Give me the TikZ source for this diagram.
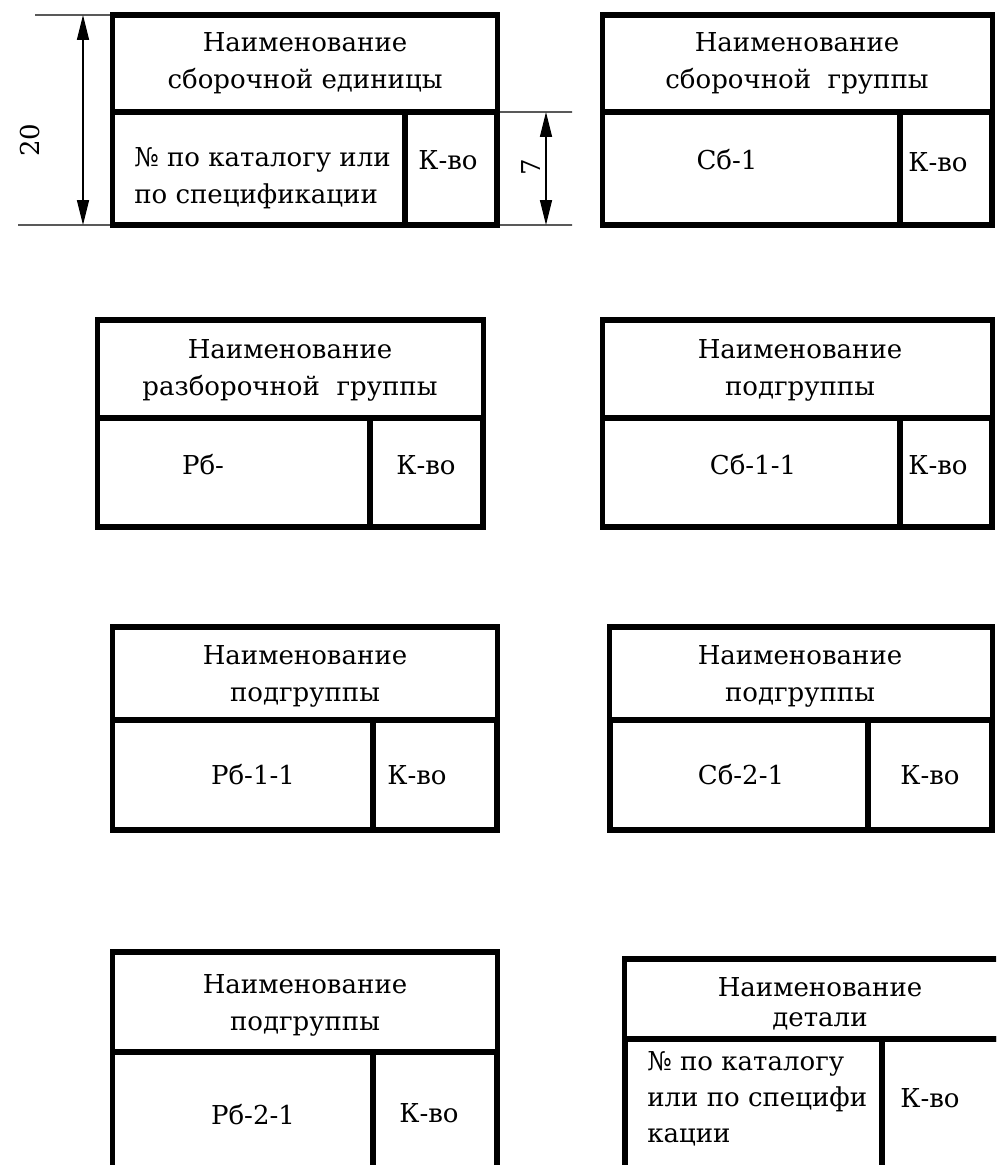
\documentclass[tikz,border=0pt]{standalone}
\usepackage{fontspec}
\setmainfont{DejaVu Serif}
\usetikzlibrary{arrows.meta}

\tikzset{
	cell/.style={draw,rectangle,line width=3.6pt,inner sep=0pt,outer sep=0pt},
	txt/.style={align=center,inner sep=0pt,font=\fontsize{18.5}{26.3}\selectfont},
	dimline/.style={line width=0.9pt},
	dimarrow/.style={line width=0.9pt,{Triangle[length=0.62cm,width=0.3cm]}-{Triangle[length=0.62cm,width=0.3cm]}}
}

\begin{document}
\begin{tikzpicture}[x=0.025cm,y=-0.025cm]
		\useasboundingbox (0,0) rectangle (996,1165);
		\clip (0,0) rectangle (996,1165);

		% row 1
		\node[cell,minimum width=9.6cm,minimum height=2.425cm] at (305,63.5) (b1h) {};
		\node[cell,minimum width=7.3cm,minimum height=2.825cm] at (259,168.5) (b1n) {};
		\node[cell,minimum width=2.3cm,minimum height=2.825cm] at (451,168.5) (b1k) {};
		\node[txt] at (305,63) (t1h) {Наименование\\сборочной единицы};
		\node[txt,align=left,anchor=west] at (134,178) (t1n) {№ по каталогу или\\по спецификации};
		\node[txt] at (448,160) (t1k) {К-во};

		\node[cell,minimum width=9.725cm,minimum height=2.425cm] at (797.5,63.5) (b2h) {};
		\node[cell,minimum width=7.425cm,minimum height=2.825cm] at (751.5,168.5) (b2n) {};
		\node[cell,minimum width=2.3cm,minimum height=2.825cm] at (946,168.5) (b2k) {};
		\node[txt] at (797,63) (t2h) {Наименование\\сборочной\ \ группы};
		\node[txt] at (727,160) (t2n) {Сб-1};
		\node[txt] at (938,162) (t2k) {К-во};

		% dimensions
		\coordinate (e1) at (35,15);
		\coordinate (e2) at (18,225);
		\coordinate (e3) at (572,112);
		\coordinate (e4) at (572,225);
		\coordinate (a1) at (83,15);
		\coordinate (a2) at (83,225);
		\coordinate (a3) at (546,112);
		\coordinate (a4) at (546,225);
		\draw[dimline] (e1) -- (b1h.north west);
		\draw[dimline] (e2) -- (b1n.south west);
		\draw[dimline] (b1h.south east) -- (e3);
		\draw[dimline] (b1k.south east) -- (e4);
		\draw[dimarrow] (a1) -- (a2);
		\node[txt,rotate=90] at (30,140) (l20) {20};
		\draw[dimarrow] (a3) -- (a4);
		\node[txt,rotate=90] at (531,167) (l7) {7};

		% row 2
		\node[cell,minimum width=9.625cm,minimum height=2.45cm] at (290.5,369) (b3h) {};
		\node[cell,minimum width=6.8cm,minimum height=2.725cm] at (234,472.5) (b3n) {};
		\node[cell,minimum width=2.825cm,minimum height=2.725cm] at (426.5,472.5) (b3k) {};
		\node[txt] at (290,370) (t3h) {Наименование\\разборочной\ \ группы};
		\node[txt] at (203,465) (t3n) {Рб-};
		\node[txt] at (426,465) (t3k) {К-во};

		\node[cell,minimum width=9.725cm,minimum height=2.45cm] at (797.5,369) (b4h) {};
		\node[cell,minimum width=7.425cm,minimum height=2.725cm] at (751.5,472.5) (b4n) {};
		\node[cell,minimum width=2.3cm,minimum height=2.725cm] at (946,472.5) (b4k) {};
		\node[txt] at (800,370) (t4h) {Наименование\\подгруппы};
		\node[txt] at (753,465) (t4n) {Сб-1-1};
		\node[txt] at (938,465) (t4k) {К-во};

		% row 3
		\node[cell,minimum width=9.6cm,minimum height=2.325cm] at (305,673.5) (b5h) {};
		\node[cell,minimum width=6.5cm,minimum height=2.75cm] at (243,775) (b5n) {};
		\node[cell,minimum width=3.1cm,minimum height=2.75cm] at (435,775) (b5k) {};
		\node[txt] at (305,676) (t5h) {Наименование\\подгруппы};
		\node[txt] at (253,775) (t5n) {Рб-1-1};
		\node[txt] at (417,775) (t5k) {К-во};

		\node[cell,minimum width=9.55cm,minimum height=2.325cm] at (801,673.5) (b6h) {};
		\node[cell,minimum width=6.45cm,minimum height=2.75cm] at (739,775) (b6n) {};
		\node[cell,minimum width=3.1cm,minimum height=2.75cm] at (930,775) (b6k) {};
		\node[txt] at (800,676) (t6h) {Наименование\\подгруппы};
		\node[txt] at (741,775) (t6n) {Сб-2-1};
		\node[txt] at (930,775) (t6k) {К-во};

		% row 4
		\node[cell,minimum width=9.6cm,minimum height=2.5cm] at (305,1002) (b7h) {};
		\node[cell,minimum width=6.5cm,minimum height=3.325cm] at (243,1118.5) (b7n) {};
		\node[cell,minimum width=3.1cm,minimum height=3.325cm] at (435,1118.5) (b7k) {};
		\node[txt] at (305,1005) (t7h) {Наименование\\подгруппы};
		\node[txt] at (253,1115) (t7n) {Рб-2-1};
		\node[txt] at (429,1113) (t7k) {К-во};

		\node[cell,minimum width=10.375cm,minimum height=2cm] at (832.5,999) (b8h) {};
		\node[cell,minimum width=6.425cm,minimum height=3.65cm] at (753.5,1112) (b8n) {};
		\node[cell,minimum width=3.95cm,minimum height=3.65cm] at (961,1112) (b8k) {};
		\node[txt,font=\fontsize{18.5}{21.5}\selectfont] at (820,1004) (t8h) {Наименование\\детали};
		\node[txt,align=left,anchor=west,font=\fontsize{18.5}{25.6}\selectfont] at (647,1099) (t8n) {№ по каталогу\\или по специфи\\кации};
		\node[txt] at (930,1098) (t8k) {К-во};
	\end{tikzpicture}
\end{document}
